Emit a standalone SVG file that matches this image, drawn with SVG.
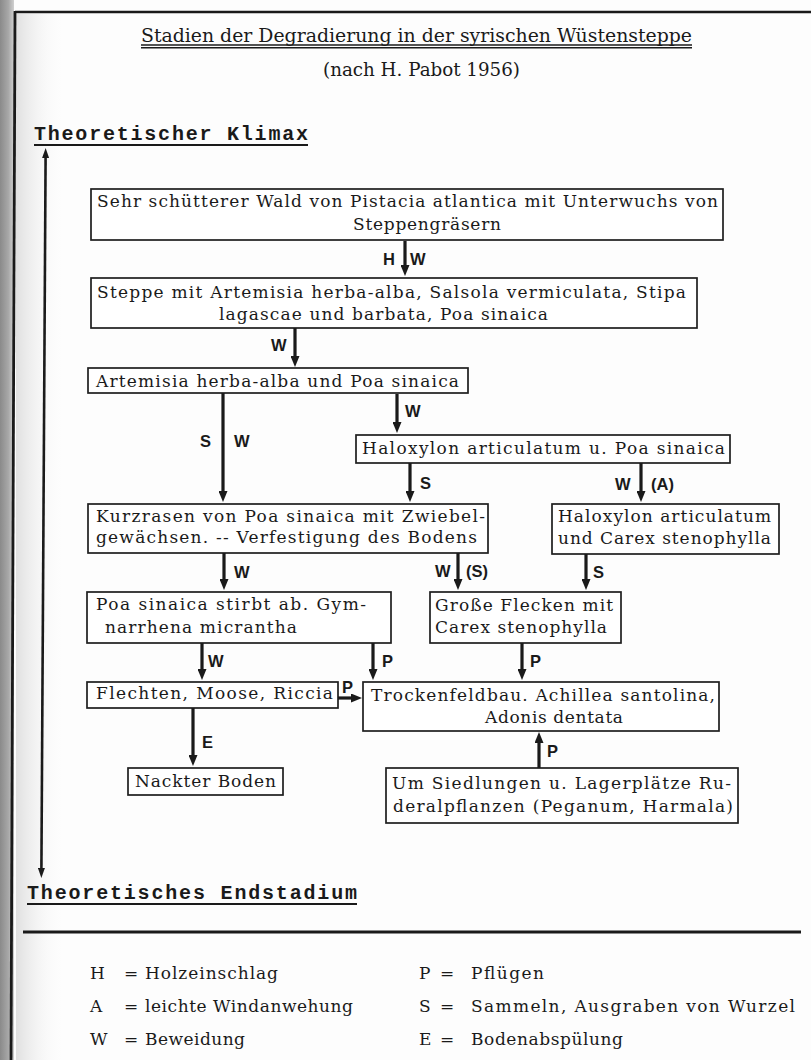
<svg xmlns="http://www.w3.org/2000/svg" width="811" height="1060" viewBox="0 0 811 1060">
<defs>
  <style>
    .box{fill:#fff;stroke:#1e1e1e;stroke-width:1.7}
    .t{font-family:"DejaVu Serif","Liberation Serif",serif;font-size:17px;fill:#1a1a1a}
    .ttl{font-family:"DejaVu Serif","Liberation Serif",serif;font-size:18px;fill:#1a1a1a}
    .mono{font-family:"Liberation Mono","DejaVu Sans Mono",monospace;font-size:20px;font-weight:bold;fill:#1a1a1a}
    .lab{font-family:"Liberation Sans","DejaVu Sans",sans-serif;font-size:16.5px;font-weight:bold;fill:#1a1a1a}
    .arr{stroke:#1a1a1a;stroke-width:3.2;fill:none;marker-end:url(#ah)}
    .rule{stroke:#1a1a1a;fill:none}
  </style>
  <marker id="ah" markerUnits="userSpaceOnUse" markerWidth="11" markerHeight="9" refX="2" refY="4.5" orient="auto">
    <path d="M0,0 L11,4.5 L0,9 Z" fill="#1a1a1a"/>
  </marker>
  <marker id="bh" markerUnits="userSpaceOnUse" markerWidth="10" markerHeight="7" refX="2" refY="3.5" orient="auto-start-reverse">
    <path d="M0,0 L10,3.5 L0,7 Z" fill="#1a1a1a"/>
  </marker>
  <linearGradient id="edge" x1="0" y1="0" x2="1" y2="0">
    <stop offset="0" stop-color="#8a8a8a"/>
    <stop offset="0.6" stop-color="#a8a8a8"/>
    <stop offset="1" stop-color="#d0d0d0"/>
  </linearGradient>
  <linearGradient id="ghost" x1="0" y1="0" x2="1" y2="0">
    <stop offset="0" stop-color="#c8c8c8" stop-opacity="0.55"/>
    <stop offset="1" stop-color="#ffffff" stop-opacity="0"/>
  </linearGradient>
</defs>

<rect x="0" y="0" width="811" height="1060" fill="#fdfdfd"/>
<!-- scanned paper edge -->
<rect x="0" y="0" width="14" height="1060" fill="url(#edge)"/>
<rect x="16" y="14" width="50" height="1046" fill="url(#ghost)"/>
<!-- frame -->
<line class="rule" x1="15" y1="12" x2="811" y2="12" stroke-width="2.6"/>
<line class="rule" x1="15" y1="11" x2="11" y2="1060" stroke-width="2.8"/>

<!-- title -->
<g id="title">
  <text class="ttl" x="141" y="42" textLength="551" lengthAdjust="spacingAndGlyphs">Stadien der Degradierung in der syrischen Wüstensteppe</text>
  <line class="rule" x1="141" y1="45" x2="692" y2="45" stroke-width="1.7"/>
  <line class="rule" x1="141" y1="47.8" x2="692" y2="47.8" stroke-width="1.4"/>
  <text class="ttl" x="323" y="76" textLength="197" lengthAdjust="spacingAndGlyphs">(nach H. Pabot 1956)</text>
</g>

<g id="klimax">
  <text class="mono" x="34" y="140" textLength="274" lengthAdjust="spacing">Theoretischer Klimax</text>
  <line class="rule" x1="34" y1="145" x2="308" y2="145" stroke-width="2"/>
</g>

<g id="endstadium">
  <text class="mono" x="27" y="899" textLength="330" lengthAdjust="spacing">Theoretisches Endstadium</text>
  <line class="rule" x1="27" y1="904" x2="357" y2="904" stroke-width="2"/>
</g>

<!-- nodes -->
<g id="n1">
  <rect class="box" x="91" y="189" width="632" height="51"/>
  <text class="t" x="97" y="207" textLength="621">Sehr schütterer Wald von Pistacia atlantica mit Unterwuchs von</text>
  <text class="t" x="353" y="230" textLength="148">Steppengräsern</text>
</g>
<g id="n2">
  <rect class="box" x="91" y="278" width="606" height="50"/>
  <text class="t" x="97" y="298" textLength="589">Steppe mit Artemisia herba-alba, Salsola vermiculata, Stipa</text>
  <text class="t" x="219" y="320" textLength="329">lagascae und barbata, Poa sinaica</text>
</g>
<g id="n3">
  <rect class="box" x="88" y="368" width="380" height="25"/>
  <text class="t" x="96" y="387" textLength="363">Artemisia herba-alba und Poa sinaica</text>
</g>
<g id="n4">
  <rect class="box" x="356" y="435" width="374" height="28"/>
  <text class="t" x="362" y="454" textLength="363">Haloxylon articulatum u.  Poa sinaica</text>
</g>
<g id="n5">
  <rect class="box" x="88" y="504" width="400" height="49"/>
  <text class="t" x="96" y="522" textLength="389">Kurzrasen von Poa sinaica mit Zwiebel-</text>
  <text class="t" x="96" y="543" textLength="381">gewächsen. -- Verfestigung des Bodens</text>
</g>
<g id="n6">
  <rect class="box" x="552" y="504" width="227" height="50"/>
  <text class="t" x="558" y="522" textLength="213">Haloxylon articulatum</text>
  <text class="t" x="558" y="544" textLength="213">und Carex stenophylla</text>
</g>
<g id="n7">
  <rect class="box" x="87" y="592" width="304" height="51"/>
  <text class="t" x="96" y="610" textLength="270">Poa sinaica stirbt ab. Gym-</text>
  <text class="t" x="105" y="633" textLength="192">narrhena micrantha</text>
</g>
<g id="n8">
  <rect class="box" x="430" y="592" width="191" height="51"/>
  <text class="t" x="435" y="611" textLength="178">Große Flecken mit</text>
  <text class="t" x="435" y="633" textLength="172">Carex stenophylla</text>
</g>
<g id="n9">
  <rect class="box" x="87" y="682" width="251" height="26"/>
  <text class="t" x="96" y="699" textLength="237">Flechten, Moose, Riccia</text>
</g>
<g id="n10">
  <rect class="box" x="363" y="682" width="356" height="49"/>
  <text class="t" x="371" y="701" textLength="344">Trockenfeldbau. Achillea santolina,</text>
  <text class="t" x="485" y="723" textLength="138">Adonis dentata</text>
</g>
<g id="n11">
  <rect class="box" x="128" y="768" width="155" height="27"/>
  <text class="t" x="135" y="787" textLength="141">Nackter Boden</text>
</g>
<g id="n12">
  <rect class="box" x="386" y="768" width="352" height="55"/>
  <text class="t" x="392" y="789" textLength="339">Um Siedlungen u. Lagerplätze Ru-</text>
  <text class="t" x="393" y="812" textLength="340">deralpflanzen (Peganum, Harmala)</text>
</g>

<!-- connectors -->
<g id="connectors">
  <line class="rule" x1="45.6" y1="156" x2="41.4" y2="870" stroke-width="2.6" marker-start="url(#bh)" marker-end="url(#bh)"/>

  <line class="arr" x1="405" y1="241" x2="405" y2="267"/>
  <text class="lab" x="383" y="265">H</text><text class="lab" x="410" y="265">W</text>

  <line class="arr" x1="295" y1="328" x2="295" y2="358"/>
  <text class="lab" x="271" y="351">W</text>

  <line class="arr" x1="223" y1="393" x2="223" y2="493"/>
  <text class="lab" x="200" y="447">S</text><text class="lab" x="234" y="447">W</text>

  <line class="arr" x1="397" y1="394" x2="397" y2="424"/>
  <text class="lab" x="405" y="417">W</text>

  <line class="arr" x1="410" y1="463" x2="410" y2="493"/>
  <text class="lab" x="420" y="489">S</text>

  <line class="arr" x1="641" y1="463" x2="641" y2="493"/>
  <text class="lab" x="615" y="490">W</text><text class="lab" x="651" y="490">(A)</text>

  <line class="arr" x1="224" y1="553" x2="224" y2="581"/>
  <text class="lab" x="234" y="578">W</text>

  <line class="arr" x1="458" y1="553" x2="458" y2="581"/>
  <text class="lab" x="435" y="577">W</text><text class="lab" x="466" y="577">(S)</text>

  <line class="arr" x1="586" y1="554" x2="586" y2="581"/>
  <text class="lab" x="593" y="578">S</text>

  <line class="arr" x1="202" y1="643" x2="202" y2="671"/>
  <text class="lab" x="208" y="667">W</text>

  <line class="arr" x1="373" y1="643" x2="373" y2="671"/>
  <text class="lab" x="382" y="667">P</text>

  <line class="arr" x1="522" y1="643" x2="522" y2="671"/>
  <text class="lab" x="530" y="667">P</text>

  <line class="arr" x1="338" y1="698" x2="353" y2="698"/>
  <text class="lab" x="342" y="693">P</text>

  <line class="arr" x1="193" y1="708" x2="193" y2="757"/>
  <text class="lab" x="202" y="748">E</text>

  <line class="arr" x1="539" y1="768" x2="539" y2="741"/>
  <text class="lab" x="547" y="757">P</text>
</g>

<!-- legend -->
<line class="rule" x1="23" y1="932" x2="801" y2="932" stroke-width="3"/>
<g id="legend">
  <text class="t" x="90" y="979">H</text><text class="t" x="124" y="979" font-size="13">=</text>
  <text class="t" x="145" y="979" textLength="133">Holzeinschlag</text>
  <text class="t" x="90" y="1012">A</text><text class="t" x="124" y="1012" font-size="13">=</text>
  <text class="t" x="145" y="1012" textLength="208">leichte Windanwehung</text>
  <text class="t" x="90" y="1045">W</text><text class="t" x="124" y="1045" font-size="13">=</text>
  <text class="t" x="145" y="1045" textLength="100">Beweidung</text>

  <text class="t" x="419" y="979">P</text><text class="t" x="440" y="979" font-size="13">=</text>
  <text class="t" x="471" y="979" textLength="73">Pflügen</text>
  <text class="t" x="419" y="1012">S</text><text class="t" x="440" y="1012" font-size="13">=</text>
  <text class="t" x="471" y="1012" textLength="324">Sammeln, Ausgraben von Wurzel</text>
  <text class="t" x="419" y="1045">E</text><text class="t" x="440" y="1045" font-size="13">=</text>
  <text class="t" x="471" y="1045" textLength="152">Bodenabspülung</text>
</g>
</svg>
